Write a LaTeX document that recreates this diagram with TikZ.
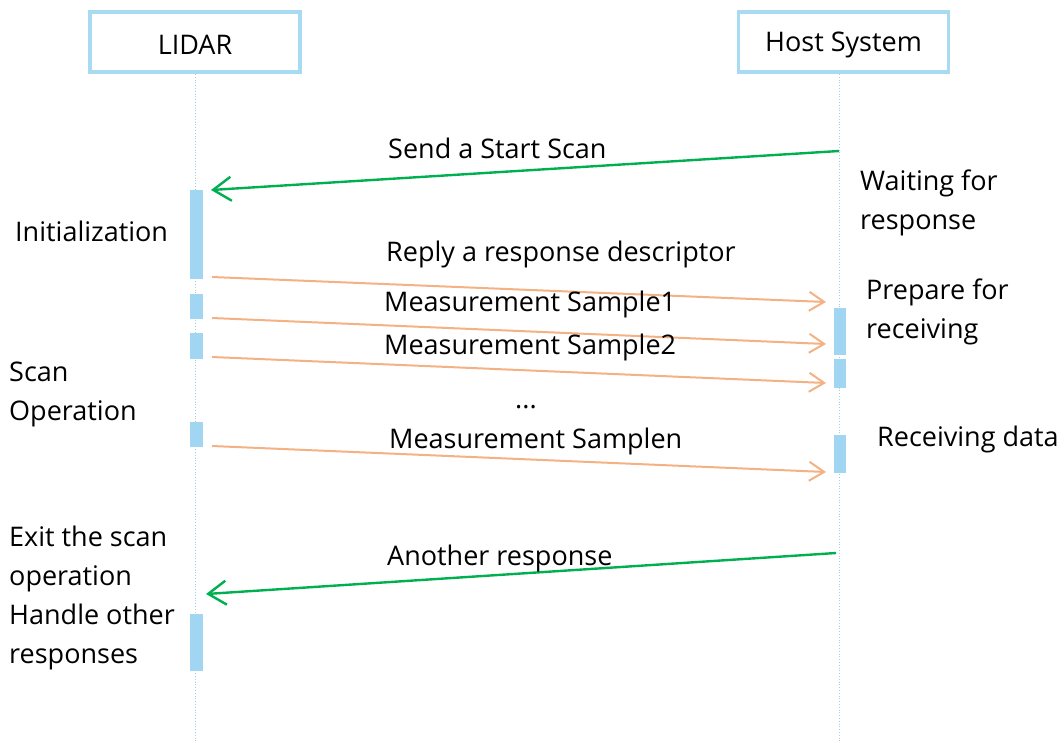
\documentclass[tikz,border=0pt]{standalone}
\usepackage{fontspec}
\setmainfont{Open Sans}
\usetikzlibrary{arrows.meta}
\definecolor{boxblue}{HTML}{A8DAF2}
\definecolor{barblue}{HTML}{A0D6F2}
\definecolor{lineblue}{HTML}{9CCFEA}
\definecolor{msggreen}{HTML}{00B050}
\definecolor{msgorange}{HTML}{F4B183}
\tikzset{
  actor/.style={draw=boxblue, line width=3.5pt, fill=white, minimum width=210pt, minimum height=60pt, font=\fontsize{27}{30}\selectfont},
  life/.style={lineblue, line width=0.8pt, dotted},
  bar/.style={fill=barblue, draw=none, minimum width=13pt, inner sep=0pt},
  lbl/.style={anchor=west, inner sep=0pt, font=\fontsize{27}{39}\selectfont, align=left},
  greenmsg/.style={msggreen, line width=2.4pt, -{Straight Barb[length=18pt, width=24pt, line width=2.4pt]}},
  orangemsg/.style={msgorange, line width=2pt, -{Straight Barb[length=15pt, width=19pt, line width=2pt]}},
}
\begin{document}
\begin{tikzpicture}[x=1pt, y=-1pt]
\useasboundingbox (0,0) rectangle (1064,742);
% lifelines
\coordinate (lidTop) at (195.5,74);
\coordinate (lidBot) at (195.5,742);
\coordinate (hostTop) at (839,74);
\coordinate (hostBot) at (839,742);
\draw[life] (lidTop) -- (lidBot);
\draw[life] (hostTop) -- (hostBot);
% actors
\node[actor] (lidar) at (195,42) {\raisebox{-3pt}[\height][\depth]{LIDAR}};
\node[actor] (host) at (843.5,42) {\raisebox{-3pt}[\height][\depth]{Host System}};
% LIDAR bars
\node[bar, minimum height=89pt] (lb1) at (196.5,234.5) {};
\node[bar, minimum height=25pt] (lb2) at (196.5,306.5) {};
\node[bar, minimum height=26pt] (lb3) at (196.5,346) {};
\node[bar, minimum height=25pt] (lb4) at (196.5,434.5) {};
\node[bar, minimum height=57pt] (lb5) at (196.5,642.5) {};
% Host bars
\node[bar, minimum width=12pt, minimum height=47pt] (hb1) at (840,331.5) {};
\node[bar, minimum width=12pt, minimum height=29pt] (hb2) at (840,373.5) {};
\node[bar, minimum width=12pt, minimum height=38pt] (hb3) at (840,454) {};
% message endpoints
\coordinate (g1s) at (839,151);
\coordinate (g1e) at (211,190);
\coordinate (o1s) at (212,277);
\coordinate (o1e) at (826,302);
\coordinate (o2s) at (212,318);
\coordinate (o2e) at (826,344);
\coordinate (o3s) at (212,357);
\coordinate (o3e) at (826,383);
\coordinate (o4s) at (212,446);
\coordinate (o4e) at (826,472);
\coordinate (g2s) at (836,553);
\coordinate (g2e) at (206,594);
\draw[greenmsg] (g1s) -- (g1e);
\draw[orangemsg] (o1s) -- (o1e);
\draw[orangemsg] (o2s) -- (o2e);
\draw[orangemsg] (o3s) -- (o3e);
\draw[orangemsg] (o4s) -- (o4e);
\draw[greenmsg] (g2s) -- (g2e);
% message labels
\node[lbl] (t1) at (388,148) {Send a Start Scan};
\node[lbl] (t2) at (386,254) {Reply a response descriptor};
\node[lbl] (t3) at (384,304) {Measurement Sample1};
\node[lbl] (t4) at (384,347) {Measurement Sample2};
\node[lbl] (t5) at (515,407) {...};
\node[lbl] (t6) at (389,441) {Measurement Samplen};
\node[lbl] (t7) at (387,558) {Another response};
% side labels
\node[lbl] (s1) at (860,202.5) {Waiting for\\response};
\node[lbl] (s2) at (866,311.5) {Prepare for\\receiving};
\node[lbl] (s3) at (877,439) {Receiving data};
\node[lbl] (s4) at (15,231) {Initialization};
\node[lbl] (s5) at (9,394.5) {Scan\\Operation};
\node[lbl] (s6) at (9,598) {Exit the scan\\operation\\Handle other\\responses};
\end{tikzpicture}
\end{document}
